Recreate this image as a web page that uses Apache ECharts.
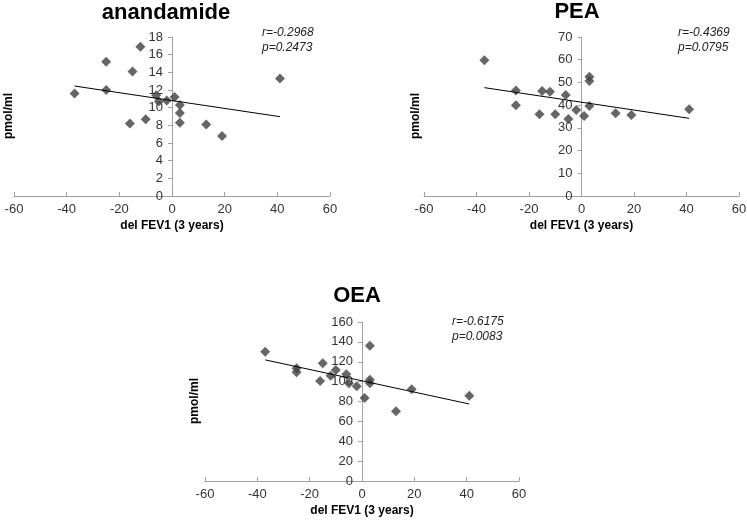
<!DOCTYPE html>
<html>
<head>
<meta charset="utf-8">
<script src="https://cdn.jsdelivr.net/npm/echarts@6/dist/echarts.min.js"></script>
<style>
  html, body { margin: 0; padding: 0; background: #fff; }
  #main { width: 747px; height: 521px; }
</style>
</head>
<body>
<div id="main"></div>
<script>
// change in FEV1 over 3 years, one value per subject
var delFEV1 = [-37, -25, -25, -16, -15, -12, -10, -6, -5, -2, 1, 3, 3, 3, 13, 19, 41];

var anandamide = [11.6, 15.2, 12.0, 8.2, 14.1, 16.9, 8.7, 11.4, 10.7, 10.8, 11.2, 10.3, 9.4, 8.3, 8.1, 6.8, 13.3];
var pea = [59.8, 46.4, 39.9, 36.0, 46.2, 45.9, 36.0, 44.5, 33.9, 37.9, 35.2, 52.5, 50.6, 39.6, 36.4, 35.7, 38.2];
var oea = [130, 113.5, 109.5, 100.7, 118.6, 105.8, 111.8, 107.5, 98.4, 95.3, 83.5, 136, 102, 98.4, 70.1, 92.3, 85.9];

// fitted trend lines, end points
var trendX = [-37, 41];
var trendAnandamide = [12.45, 8.98];
var trendPea = [47.7, 34.2];
var trendOea = [121.9, 77.5];

var panelTitles = ['anandamide', 'PEA', 'OEA'];
var rLabels = ['r=-0.2968', 'r=-0.4369', 'r=-0.6175'];
var pLabels = ['p=0.2473', 'p=0.0795', 'p=0.0083'];
var yMax = [18, 70, 160];
var yStep = [2, 10, 20];
var xTicks = [-60, 60, 20];

function pairs(xs, ys) {
    return xs.map(function(x, i) { return [x, ys[i]]; });
}

var W = 747;
var font = 'Liberation Sans, Arial, sans-serif';
var axisGray = '#a0a0a0';

var grids = [
    { left: 14, right: 417, top: 37, height: 159, outerBoundsMode: 'none' },
    { left: 424, right: 8, top: 37, height: 159, outerBoundsMode: 'none' },
    { left: 205, right: 228, top: 322, height: 159, outerBoundsMode: 'none' }
];

var xAxes = grids.map(function(g, i) {
    return {
        type: 'value',
        gridIndex: i,
        min: xTicks[0],
        max: xTicks[1],
        interval: xTicks[2],
        name: 'del FEV1 (3 years)',
        nameLocation: 'middle',
        nameGap: 24,
        nameTextStyle: { fontFamily: font, fontWeight: 'bold', fontSize: 12, color: '#000' },
        axisLine: { onZero: false, lineStyle: { color: axisGray, width: 1 } },
        axisTick: { show: true, inside: true, length: 4, lineStyle: { color: axisGray } },
        axisLabel: { margin: 7, fontFamily: font, fontSize: 13, color: '#333' },
        splitLine: { show: false }
    };
});

// y axis crosses the x axis at 0: shift it in from the grid's left edge
var yAxes = grids.map(function(g, i) {
    var width = W - g.left - g.right;
    var shift = width * (0 - xTicks[0]) / (xTicks[1] - xTicks[0]);
    return {
        type: 'value',
        gridIndex: i,
        min: 0,
        max: yMax[i],
        interval: yStep[i],
        offset: -shift,
        axisLine: { onZero: false, lineStyle: { color: axisGray, width: 1 } },
        axisTick: { show: true, length: 4, lineStyle: { color: axisGray } },
        axisLabel: { margin: 9, fontFamily: font, fontSize: 13, color: '#333' },
        splitLine: { show: false }
    };
});

var values = [anandamide, pea, oea];
var trends = [trendAnandamide, trendPea, trendOea];
var series = [];
values.forEach(function(v, i) {
    series.push({
        type: 'scatter',
        xAxisIndex: i,
        yAxisIndex: i,
        symbol: 'diamond',
        symbolSize: 10,
        itemStyle: { color: '#404040' },
        data: pairs(delFEV1, v),
        z: 3
    });
    series.push({
        type: 'line',
        xAxisIndex: i,
        yAxisIndex: i,
        symbol: 'none',
        lineStyle: { color: '#000', width: 1 },
        data: pairs(trendX, trends[i]),
        z: 4
    });
});

// text placement for titles, y names and r/p notes
var titlePos = [[166, 13], [577, 12], [357, 296]];
var yNamePos = [[9, 116], [416, 116], [195, 401]];
var notePos = [[262, 33], [678, 33], [452, 322]];

var graphics = [];
titlePos.forEach(function(p, i) {
    graphics.push({
        type: 'text', x: p[0], y: p[1],
        style: { text: panelTitles[i], fontFamily: font, fontWeight: 'bold', fontSize: 22, fill: '#000', align: 'center', verticalAlign: 'middle' }
    });
    graphics.push({
        type: 'text', x: yNamePos[i][0], y: yNamePos[i][1], rotation: Math.PI / 2,
        style: { text: 'pmol/ml', fontFamily: font, fontWeight: 'bold', fontSize: 12, fill: '#000', align: 'center', verticalAlign: 'middle' }
    });
    graphics.push({
        type: 'text', x: notePos[i][0], y: notePos[i][1],
        style: { text: rLabels[i], fontFamily: font, fontStyle: 'italic', fontSize: 12, fill: '#222', align: 'left', verticalAlign: 'middle' }
    });
    graphics.push({
        type: 'text', x: notePos[i][0], y: notePos[i][1] + 15,
        style: { text: pLabels[i], fontFamily: font, fontStyle: 'italic', fontSize: 12, fill: '#222', align: 'left', verticalAlign: 'middle' }
    });
});

var chart = echarts.init(document.getElementById('main'));
chart.setOption({
    animation: false,
    backgroundColor: '#fff',
    grid: grids,
    xAxis: xAxes,
    yAxis: yAxes,
    series: series,
    graphic: graphics
});
</script>
</body>
</html>
